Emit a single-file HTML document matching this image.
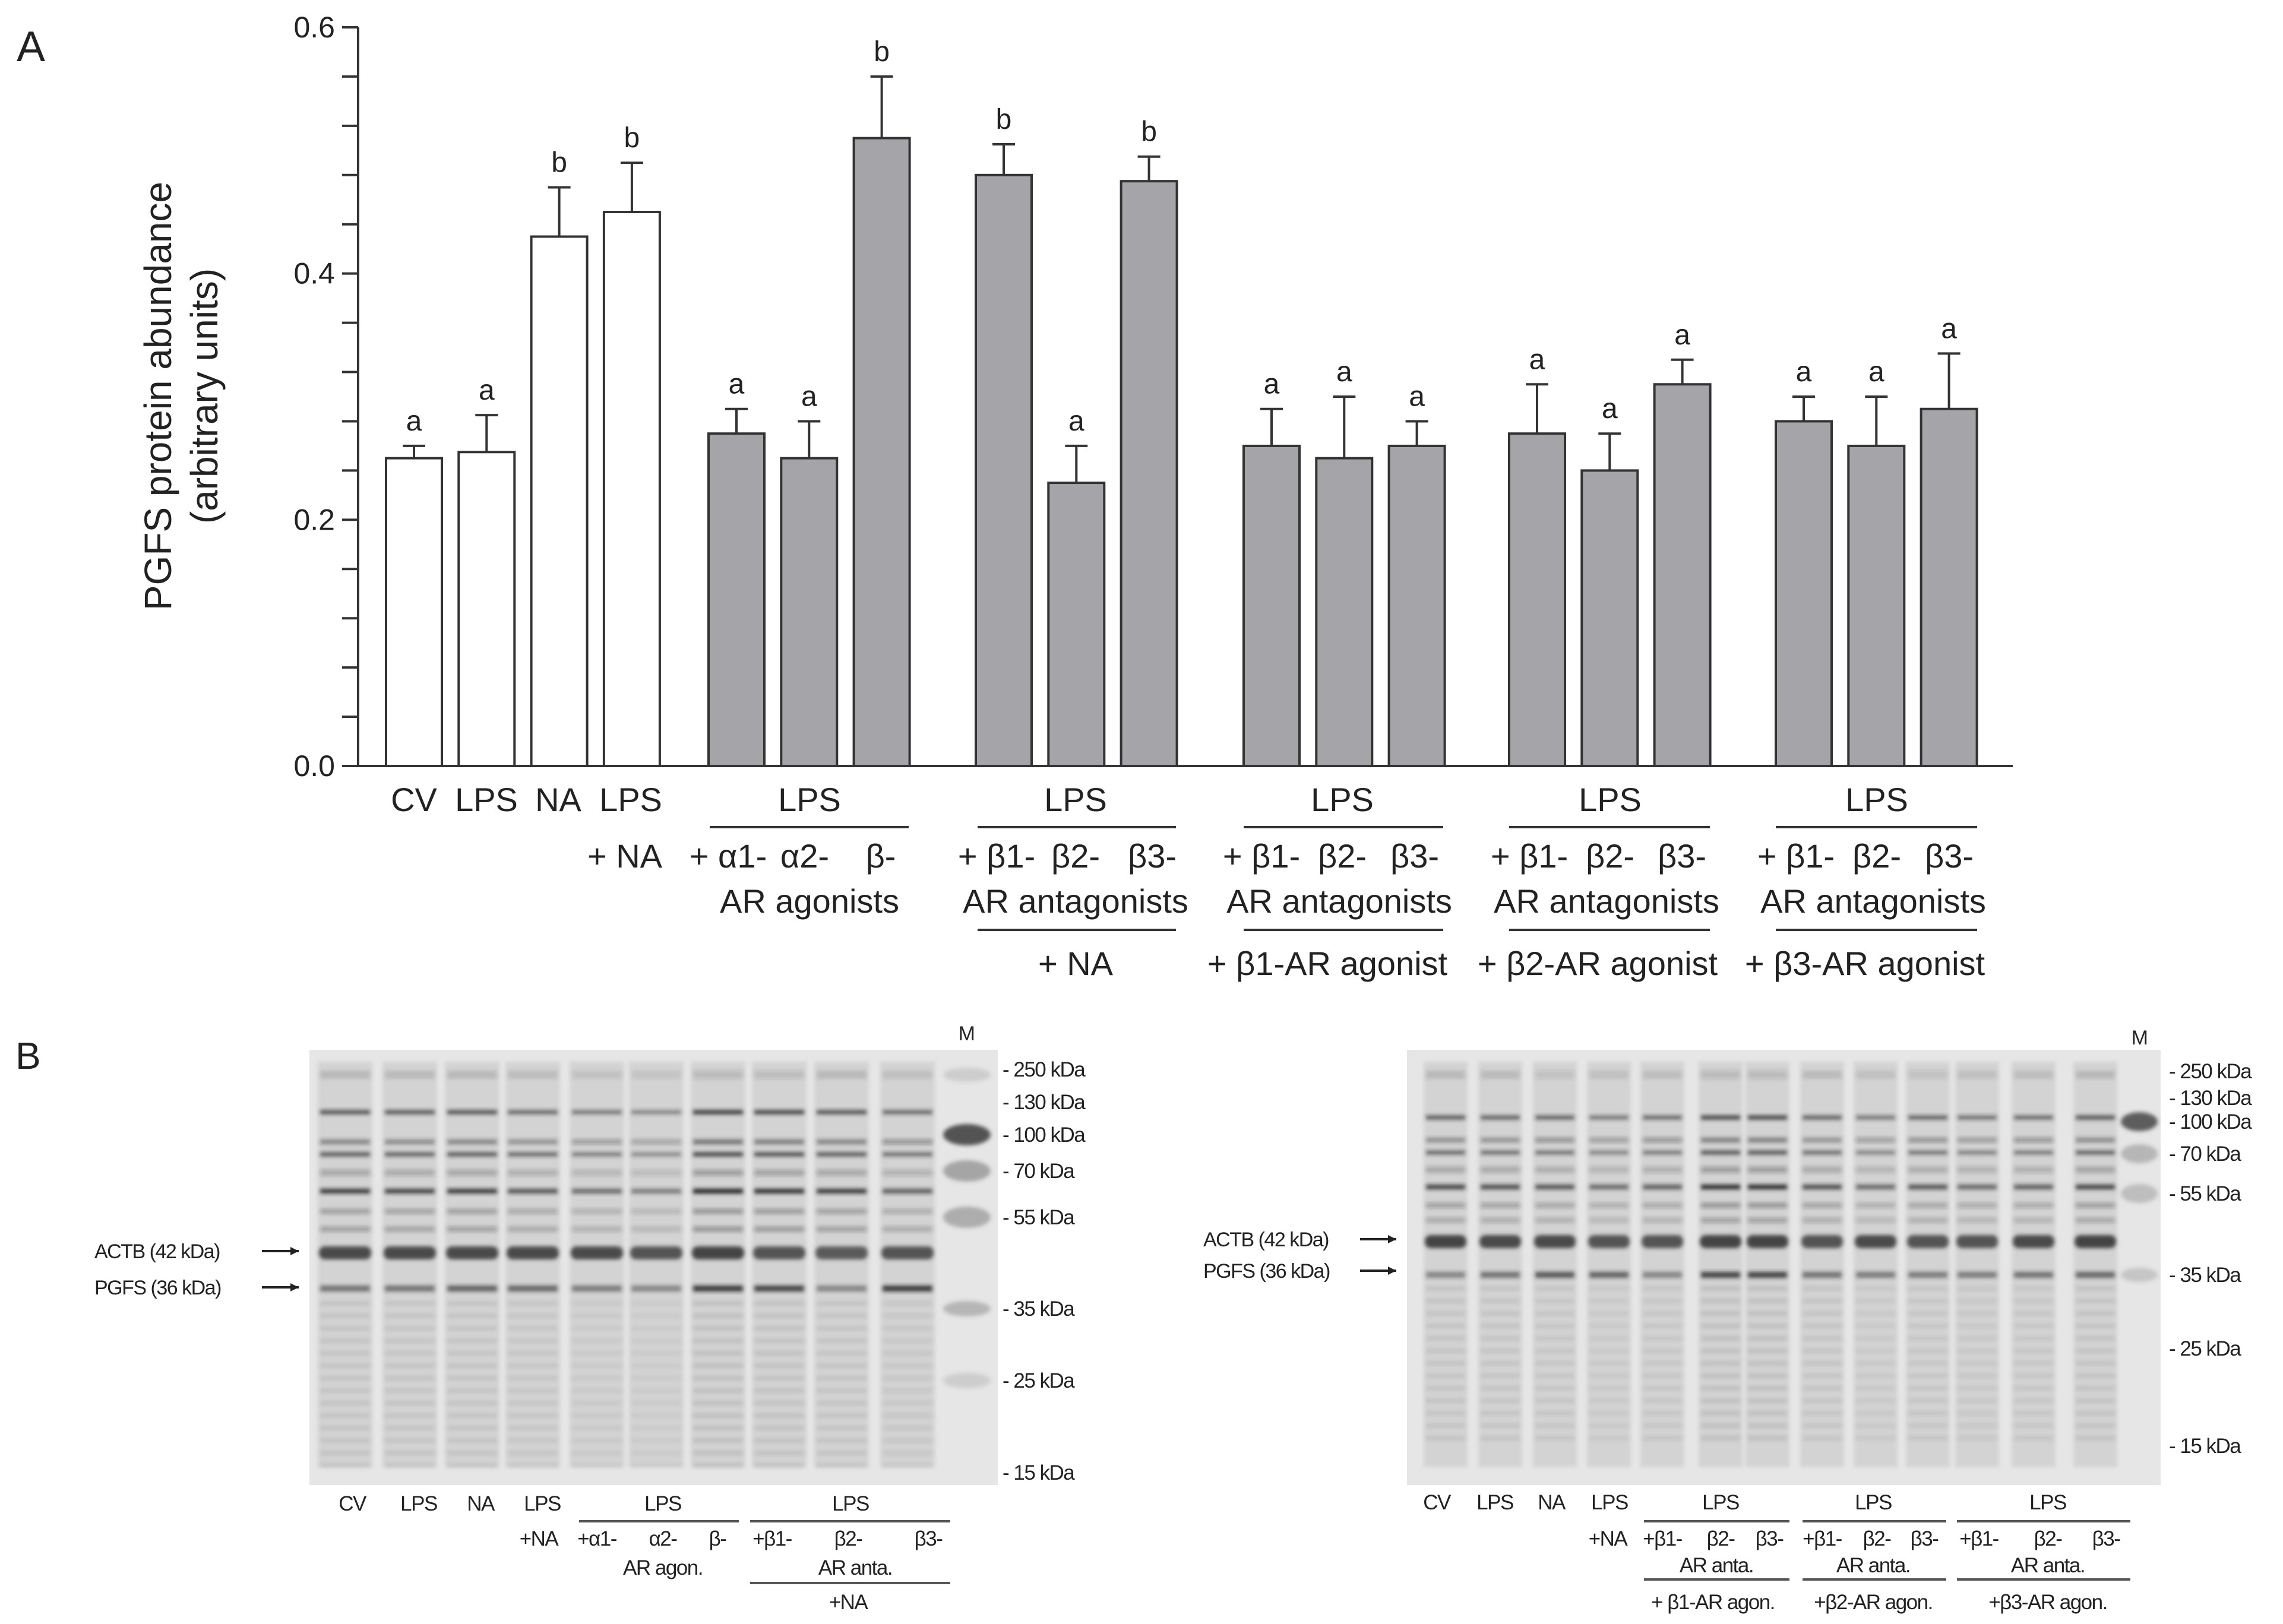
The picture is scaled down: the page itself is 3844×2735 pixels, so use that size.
<!DOCTYPE html>
<html><head><meta charset="utf-8"><style>
html,body{margin:0;padding:0;background:#fff;overflow:hidden;}
svg{display:block;}
text{font-family:"Liberation Sans",sans-serif;fill:#222;}
</style></head><body>
<svg id="fig" width="3844" height="2735" viewBox="0 0 3844 2735" xmlns="http://www.w3.org/2000/svg">
<defs>
<filter id="blur" x="-20%" y="-200%" width="140%" height="500%"><feGaussianBlur stdDeviation="3.5"/></filter>
</defs>
<g id="panelA">
<text x="28" y="103" font-size="72">A</text>
<g id="yaxis"></g>
<g transform="translate(288,667) rotate(-90)">
<text x="0" y="0" font-size="64" text-anchor="middle">PGFS protein abundance</text>
<text x="0" y="78" font-size="64" text-anchor="middle">(arbitrary units)</text>
</g>
<g id="bars"></g>
<g id="xlabels" font-size="56" text-anchor="middle">
<text x="697" y="1366">CV</text>
<text x="819" y="1366">LPS</text>
<text x="940" y="1366">NA</text>
<text x="1062" y="1366">LPS</text>
<text x="1052" y="1461">+ NA</text>
<text x="1363" y="1366">LPS</text>
<line x1="1195" y1="1393" x2="1530" y2="1393" stroke="#333" stroke-width="4"/>
<text x="1226" y="1461">+ α1-</text><text x="1355" y="1461">α2-</text><text x="1483" y="1461">β-</text>
<text x="1363" y="1537">AR agonists</text>
<text x="1811" y="1366">LPS</text>
<line x1="1646" y1="1393" x2="1980" y2="1393" stroke="#333" stroke-width="4"/>
<text x="1678" y="1461">+ β1-</text><text x="1811" y="1461">β2-</text><text x="1940" y="1461">β3-</text>
<text x="1811" y="1537">AR antagonists</text>
<line x1="1646" y1="1566" x2="1980" y2="1566" stroke="#333" stroke-width="4"/>
<text x="1811" y="1642">+ NA</text>
<text x="2260" y="1366">LPS</text>
<line x1="2094" y1="1393" x2="2430" y2="1393" stroke="#333" stroke-width="4"/>
<text x="2124" y="1461">+ β1-</text><text x="2260" y="1461">β2-</text><text x="2382" y="1461">β3-</text>
<text x="2255" y="1537">AR antagonists</text>
<line x1="2094" y1="1566" x2="2430" y2="1566" stroke="#333" stroke-width="4"/>
<text x="2235" y="1642">+ β1-AR agonist</text>
<text x="2711" y="1366">LPS</text>
<line x1="2541" y1="1393" x2="2879" y2="1393" stroke="#333" stroke-width="4"/>
<text x="2575" y="1461">+ β1-</text><text x="2711" y="1461">β2-</text><text x="2832" y="1461">β3-</text>
<text x="2705" y="1537">AR antagonists</text>
<line x1="2541" y1="1566" x2="2879" y2="1566" stroke="#333" stroke-width="4"/>
<text x="2690" y="1642">+ β2-AR agonist</text>
<text x="3160" y="1366">LPS</text>
<line x1="2990" y1="1393" x2="3329" y2="1393" stroke="#333" stroke-width="4"/>
<text x="3024" y="1461">+ β1-</text><text x="3160" y="1461">β2-</text><text x="3282" y="1461">β3-</text>
<text x="3154" y="1537">AR antagonists</text>
<line x1="2990" y1="1566" x2="3329" y2="1566" stroke="#333" stroke-width="4"/>
<text x="3140" y="1642">+ β3-AR agonist</text>
</g>
</g>
<g id="panelB">
<text x="26" y="1800" font-size="64">B</text>
<g id="gel1"></g>
<g id="gel2"></g>
<g font-size="34" letter-spacing="-1.5">
<text x="159" y="2119">ACTB (42 kDa)</text>
<text x="159" y="2180">PGFS (36 kDa)</text>
<text x="2026" y="2099">ACTB (42 kDa)</text>
<text x="2026" y="2152">PGFS (36 kDa)</text>
<text x="1627" y="1752" text-anchor="middle">M</text>
<text x="3602" y="1759" text-anchor="middle">M</text>
</g>
<g font-size="35" letter-spacing="-1.5" text-anchor="middle">
<text x="593" y="2544">CV</text><text x="705" y="2544">LPS</text><text x="809" y="2544">NA</text><text x="913" y="2544">LPS</text>
<text x="1116" y="2544">LPS</text><text x="1432" y="2544">LPS</text>
<line x1="975" y1="2562" x2="1244" y2="2562" stroke="#555" stroke-width="4"/>
<line x1="1263" y1="2562" x2="1600" y2="2562" stroke="#555" stroke-width="4"/>
<text x="907" y="2603">+NA</text><text x="1005" y="2603">+α1-</text><text x="1116" y="2603">α2-</text><text x="1208" y="2603">β-</text>
<text x="1300" y="2603">+β1-</text><text x="1428" y="2603">β2-</text><text x="1563" y="2603">β3-</text>
<text x="1116" y="2652">AR agon.</text><text x="1440" y="2652">AR anta.</text>
<line x1="1263" y1="2666" x2="1600" y2="2666" stroke="#555" stroke-width="4"/>
<text x="1428" y="2710">+NA</text>
</g>
<g font-size="35" letter-spacing="-1.5" text-anchor="middle">
<text x="2419" y="2542">CV</text><text x="2517" y="2542">LPS</text><text x="2612" y="2542">NA</text><text x="2710" y="2542">LPS</text>
<text x="2897" y="2542">LPS</text><text x="3154" y="2542">LPS</text><text x="3448" y="2542">LPS</text>
<line x1="2768" y1="2562" x2="3013" y2="2562" stroke="#555" stroke-width="4"/>
<line x1="3035" y1="2562" x2="3277" y2="2562" stroke="#555" stroke-width="4"/>
<line x1="3295" y1="2562" x2="3587" y2="2562" stroke="#555" stroke-width="4"/>
<text x="2707" y="2603">+NA</text>
<text x="2799" y="2603">+β1-</text><text x="2897" y="2603">β2-</text><text x="2979" y="2603">β3-</text>
<text x="3068" y="2603">+β1-</text><text x="3160" y="2603">β2-</text><text x="3240" y="2603">β3-</text>
<text x="3332" y="2603">+β1-</text><text x="3448" y="2603">β2-</text><text x="3546" y="2603">β3-</text>
<text x="2890" y="2648">AR anta.</text><text x="3154" y="2648">AR anta.</text><text x="3448" y="2648">AR anta.</text>
<line x1="2768" y1="2660" x2="3013" y2="2660" stroke="#555" stroke-width="4"/>
<line x1="3035" y1="2660" x2="3277" y2="2660" stroke="#555" stroke-width="4"/>
<line x1="3295" y1="2660" x2="3587" y2="2660" stroke="#555" stroke-width="4"/>
<text x="2884" y="2710">+ β1-AR agon.</text><text x="3154" y="2710">+β2-AR agon.</text><text x="3448" y="2710">+β3-AR agon.</text>
</g>
</g>
</svg>
<script>
// ---- Chart data ----
const categories = ["CV","LPS","NA","LPS+NA","LPS+a1","LPS+a2","LPS+b","NA+b1ant","NA+b2ant","NA+b3ant","b1ag+b1ant","b1ag+b2ant","b1ag+b3ant","b2ag+b1ant","b2ag+b2ant","b2ag+b3ant","b3ag+b1ant","b3ag+b2ant","b3ag+b3ant"];
const means = [0.25,0.255,0.43,0.45,0.27,0.25,0.51,0.48,0.23,0.475,0.26,0.25,0.26,0.27,0.24,0.31,0.28,0.26,0.29];
const errors = [0.01,0.03,0.04,0.04,0.02,0.03,0.05,0.025,0.03,0.02,0.03,0.05,0.02,0.04,0.03,0.02,0.02,0.04,0.045];
const letters = ["a","a","b","b","a","a","b","b","a","b","a","a","a","a","a","a","a","a","a"];
const groups = [0,0,0,0,1,1,1,2,2,2,3,3,3,4,4,4,5,5,5];
const yTicks = [0,0.2,0.4,0.6];
const yTickLabels = ["0.0","0.2","0.4","0.6"];

const NS="http://www.w3.org/2000/svg";
function mk(tag,attrs,parent){const e=document.createElementNS(NS,tag);for(const k in attrs)e.setAttribute(k,attrs[k]);parent.appendChild(e);return e;}
const Y0=1290, YTOP=46, YMAX=0.6;
function y(v){return Y0-(v/YMAX)*(Y0-YTOP);}
const groupStart=[650,1193,1643,2094,2541,2990];
const pitch=122.3, bw=94;
function xLeft(i){const g=groups[i];let j=0;for(let k=0;k<i;k++)if(groups[k]===g)j++;return groupStart[g]+j*pitch;}

const ya=document.getElementById('yaxis');
let l=mk('line',{x1:603,y1:YTOP,x2:603,y2:Y0,stroke:'#333','stroke-width':4},ya);


l=mk('line',{x1:603,y1:Y0,x2:3389,y2:Y0,stroke:'#333','stroke-width':4},ya);


for(let k=0;k<=15;k++){
  const v=k*0.04;
  const t=mk('line',{x1:576,y1:y(v),x2:603,y2:y(v),stroke:'#333','stroke-width':4},ya);
  
  
}
yTicks.forEach((v,i)=>{
  const t=mk('text',{x:564,y:y(v)+17,'font-size':50,'text-anchor':'end'},ya);
  t.textContent=yTickLabels[i];
  
  
});
const bg=document.getElementById('bars');
means.forEach((m,i)=>{
  const x0=xLeft(i), cx=x0+bw/2, top=y(m+errors[i]);
  const e=mk('line',{x1:cx,y1:y(m),x2:cx,y2:top,stroke:'#333','stroke-width':4},bg);
  
  
  const c=mk('line',{x1:cx-19,y1:top,x2:cx+19,y2:top,stroke:'#333','stroke-width':4},bg);
  
  
  const r=mk('rect',{x:x0,y:y(m),width:bw,height:Y0-y(m),fill:groups[i]===0?'#ffffff':'#a4a4a9',stroke:'#333','stroke-width':4},bg);
  
  
  const t=mk('text',{x:cx,y:top-26,'font-size':48,'text-anchor':'middle'},bg);
  t.textContent=letters[i];
  
  
});

// ---- Gels ----
function drawGel(gid,box,lanes,bands,actb,pgfs,markerX,markers,markerBlobs,str){
  const g=document.getElementById(gid);
  const bgR=mk('rect',{x:box[0],y:box[1],width:box[2]-box[0],height:box[3]-box[1],fill:'#e6e6e6'},g);
  
  
  const lw=box.lw;
  lanes.forEach((cx,i)=>{
    const ln=mk('rect',{x:cx-lw/2,y:box[1]+20,width:lw,height:box[3]-box[1]-50,fill:'#d3d3d3',filter:'url(#blur)'},g);
    
    
    bands.forEach(b=>{
      const bd=mk('rect',{x:cx-lw/2+4,y:b[0]-b[2]/2,width:lw-8,height:b[2],fill:'#222','fill-opacity':Math.min(1,b[1]*str[i]),filter:'url(#blur)'},g);
      
      
    });
    const a=mk('rect',{x:cx-lw/2+2,y:box.actbY-11,width:lw-4,height:22,rx:10,fill:'#333','fill-opacity':actb[i],filter:'url(#blur)'},g);
    
    
    const p=mk('rect',{x:cx-lw/2+4,y:box.pgfsY-5,width:lw-8,height:10,fill:'#222','fill-opacity':pgfs[i],filter:'url(#blur)'},g);
    
    
  });
  markerBlobs.forEach(b=>{
    const m=mk('ellipse',{cx:markerX,cy:b[0],rx:lw/2-6,ry:b[2],fill:'#444','fill-opacity':b[1],filter:'url(#blur)'},g);
    
    
  });
  markers.forEach(mm=>{
    const t=mk('text',{x:box.mlx,y:mm[1]+12,'font-size':35,'letter-spacing':-1.5},g);
    t.textContent='- '+mm[0]+' kDa';
    
    
  });
  const ar1=mk('line',{x1:box.arX[0],y1:box.actbLbl,x2:box.arX[1],y2:box.actbLbl,stroke:'#222','stroke-width':4},g);
  
  
  mk('path',{d:`M${box.arX[1]} ${box.actbLbl} l-14 -7 v14z`,fill:'#222'},g);
  const ar2=mk('line',{x1:box.arX[0],y1:box.pgfsLbl,x2:box.arX[1],y2:box.pgfsLbl,stroke:'#222','stroke-width':4},g);
  
  
  mk('path',{d:`M${box.arX[1]} ${box.pgfsLbl} l-14 -7 v14z`,fill:'#222'},g);
}
function bandSet(y0,y1,top){
  const out=top.slice();
  for(let yy=y0;yy<y1;yy+=21)out.push([yy,0.08,8]);
  return out;
}
const gel1Lanes=[581,690,795,897,1005,1105,1209,1312,1417,1528];
const gel1Actb=[0.85,0.85,0.85,0.85,0.85,0.8,0.9,0.8,0.75,0.8];
const gel1Pgfs=[0.55,0.55,0.65,0.6,0.5,0.45,0.85,0.8,0.45,0.85];
const gel1Str=[1,0.95,1,0.85,0.7,0.6,1.2,1.1,1.0,0.8];
const box1=[521,1768,1680,2501];
box1.lw=92;box1.actbY=2110;box1.pgfsY=2170;box1.mlx=1688;box1.arX=[441,503];box1.actbLbl=2107;box1.pgfsLbl=2168;
drawGel('gel1',box1,gel1Lanes,
  bandSet(2195,2470,[[1810,0.12,14],[1873,0.75,7],[1923,0.45,8],[1944,0.7,7],[1975,0.25,10],[2006,0.85,8],[2040,0.3,8],[2070,0.3,8]]),
  gel1Actb,gel1Pgfs,1628,
  [[250,1801],[130,1856],[100,1911],[70,1972],[55,2050],[35,2204],[25,2325],[15,2480]],
  [[1810,0.15,12],[1911,0.9,18],[1972,0.4,18],[2050,0.35,18],[2204,0.3,13],[2325,0.15,13]],gel1Str);
const gel2Lanes=[2434,2526,2618,2709,2799,2897,2976,3068,3158,3246,3329,3424,3528];
const gel2Actb=[0.9,0.85,0.85,0.8,0.8,0.9,0.9,0.8,0.85,0.8,0.8,0.85,0.9];
const gel2Pgfs=[0.45,0.55,0.7,0.65,0.45,0.8,0.8,0.55,0.5,0.5,0.5,0.55,0.6];
const gel2Str=[1,0.95,0.9,0.75,0.85,1.2,1.2,0.95,0.75,0.9,0.8,0.85,1.05];
const box2=[2369,1768,3638,2501];
box2.lw=74;box2.actbY=2091;box2.pgfsY=2147;box2.mlx=3652;box2.arX=[2290,2351];box2.actbLbl=2087;box2.pgfsLbl=2140;
drawGel('gel2',box2,gel2Lanes,
  bandSet(2170,2440,[[1810,0.12,14],[1882,0.7,7],[1920,0.4,8],[1941,0.6,7],[1970,0.25,10],[1999,0.8,8],[2030,0.3,8],[2055,0.25,8]]),
  gel2Actb,gel2Pgfs,3602,
  [[250,1804],[130,1849],[100,1889],[70,1943],[55,2010],[35,2147],[25,2271],[15,2435]],
  [[1889,0.85,16],[1943,0.3,16],[2010,0.25,16],[2147,0.2,12]],gel2Str);
</script>
</body></html>
